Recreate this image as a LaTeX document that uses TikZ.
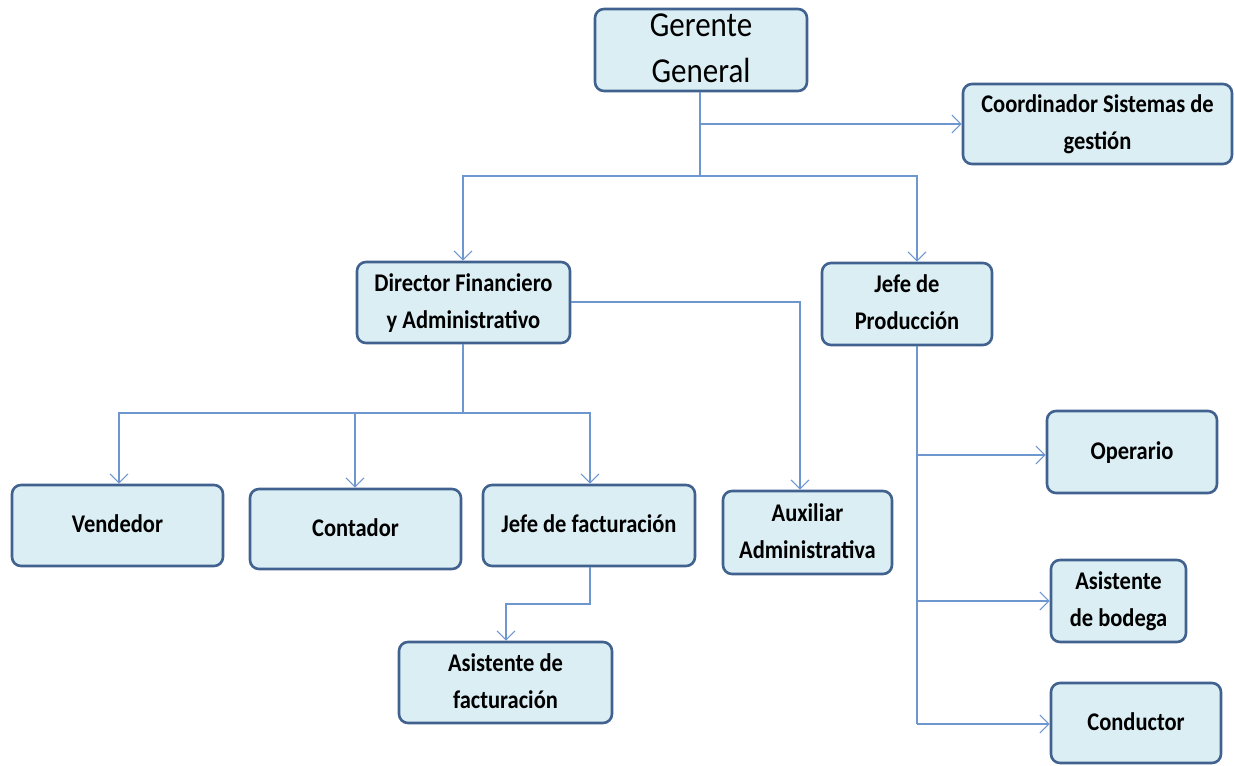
\documentclass[tikz,border=0pt]{standalone}
\usepackage{fontspec}
\setmainfont{Carlito}
\usetikzlibrary{arrows.meta}
\definecolor{boxfill}{HTML}{DBEEF4}
\definecolor{boxline}{HTML}{41628F}
\definecolor{conn}{HTML}{6E96CF}
\newcommand{\tx}[1]{\scalebox{1}[1.13]{\begin{tabular}{@{}c@{}}#1\end{tabular}}}
\tikzset{
  box/.style={draw=boxline, line width=2.6pt, fill=boxfill, rounded corners=9pt,
    align=center, inner sep=0pt, font=\bfseries\fontsize{22.5}{32.7}\selectfont},
  conn/.style={draw=conn, line width=1.3pt},
  arr/.style={conn, -{Straight Barb[length=9pt,width=18pt,line width=1.1pt]}}
}
\begin{document}
\begin{tikzpicture}[x=1pt,y=-1pt]
\useasboundingbox (0,0) rectangle (1235,766);
% boxes: center, width, height
\node[box, minimum width=212pt, minimum height=82pt, inner ysep=-8pt, font=\fontsize{31}{40.5}\selectfont] (gg) at (701,50) {\tx{Gerente\\General}};
\node[box, minimum width=269pt, minimum height=80pt] (cs) at (1097.5,124) {\tx{Coordinador Sistemas de\\gestión}};
\node[box, minimum width=213pt, minimum height=81pt] (df) at (463.5,302.5) {\tx{Director Financiero\\y Administrativo}};
\node[box, minimum width=170pt, minimum height=82pt] (jp) at (907,304) {\tx{Jefe de\\Producción}};
\node[box, minimum width=211pt, minimum height=81pt] (ve) at (117.5,525.5) {\tx{Vendedor}};
\node[box, minimum width=211pt, minimum height=80pt] (co) at (355.5,529) {\tx{Contador}};
\node[box, minimum width=212pt, minimum height=81pt] (jf) at (589,525.5) {\tx{Jefe de facturación}};
\node[box, minimum width=169pt, minimum height=83pt] (ax) at (807.5,532.5) {\tx{Auxiliar\\Administrativa}};
\node[box, minimum width=170pt, minimum height=82pt] (op) at (1132,452) {\tx{Operario}};
\node[box, minimum width=135pt, minimum height=82pt] (ab) at (1118.5,601) {\tx{Asistente\\de bodega}};
\node[box, minimum width=170pt, minimum height=80pt] (cd) at (1136,723) {\tx{Conductor}};
\node[box, minimum width=213pt, minimum height=81pt] (af) at (505.5,682.5) {\tx{Asistente de\\facturación}};
% Gerente connectors
\coordinate (g1) at (700,124);
\coordinate (g2) at (700,176);
\draw[conn] (gg.south -| g1) -- (g2);
\draw[arr] (g1) -- (g1 -| cs.west);
\draw[arr] (g2) -| (df.north -| 463,0);
\draw[arr] (g2) -| (jp.north -| 917,0);
% Director connectors
\coordinate (d1) at (463,413);
\draw[conn] (df.south -| d1) -- (d1);
\draw[arr] (d1) -| (ve.north -| 119,0);
\draw[arr] (d1) -| (co.north -| 355,0);
\draw[arr] (d1) -| (jf.north -| 590,0);
\draw[arr] (df.east |- 0,302) -| (ax.north -| 800,0);
% Jefe de facturacion
\coordinate (f1) at (506,604);
\draw[arr] (jf.south -| 590,0) |- (f1) -- (af.north -| f1);
% Jefe de produccion
\coordinate (p1) at (917,455);
\coordinate (p2) at (917,601);
\coordinate (p3) at (917,724);
\draw[conn] (jp.south -| p1) -- (p3);
\draw[arr] (p1) -- (p1 -| op.west);
\draw[arr] (p2) -- (p2 -| ab.west);
\draw[arr] (p3) -- (p3 -| cd.west);
\end{tikzpicture}
\end{document}
